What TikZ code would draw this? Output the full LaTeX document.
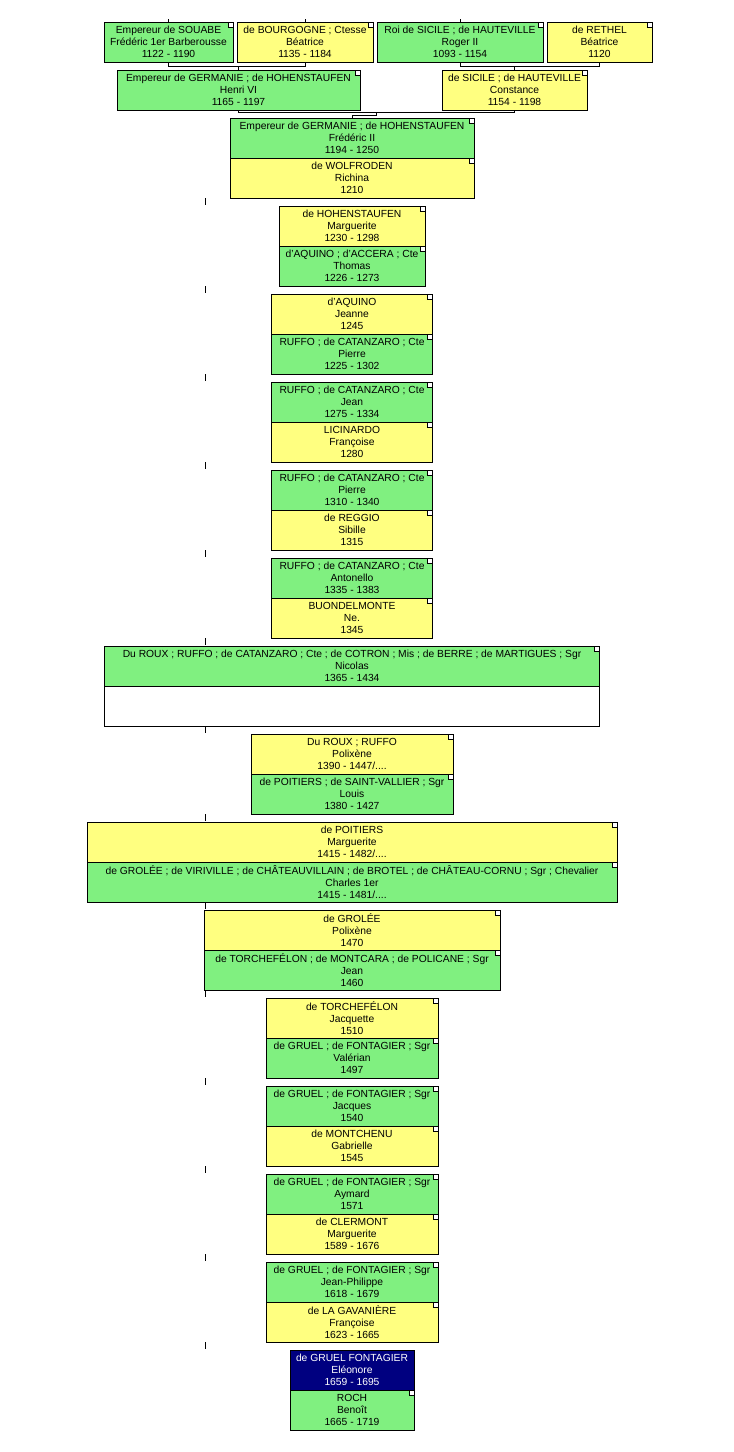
\documentclass[tikz,border=0pt]{standalone}
\usepackage{fontspec}
\setmainfont{Liberation Sans}
\usetikzlibrary{positioning}
\definecolor{malegreen}{RGB}{128,240,128}
\definecolor{femaleyellow}{RGB}{255,255,128}
\definecolor{rootblue}{RGB}{0,0,128}
\begin{document}
\begin{tikzpicture}[x=1pt,y=-1pt,line width=0.7pt,
    box node/.style={draw,line width=0.9pt,inner sep=0pt,outer sep=0pt,minimum height=40pt,
                     align=center,font=\fontsize{10.3}{12}\selectfont},
    corner tab/.style={path picture={\draw[fill=white,line width=0.6pt]
        ([shift={(-5pt,-5pt)}]path picture bounding box.north east) rectangle (path picture bounding box.north east);}},
    male node/.style={box node,corner tab,fill=malegreen},
    female node/.style={box node,corner tab,fill=femaleyellow},
    root node/.style={box node,fill=rootblue,text=white},
    blank node/.style={box node,fill=white}]

    \useasboundingbox[fill=white] (0,0) rectangle (734,1452);

    % great-grandparents
    \node[male node,minimum width=129pt,anchor=north west] (souabe) at (104,22) {Empereur de SOUABE\\Frédéric 1er Barberousse\\1122 - 1190};
    \node[female node,minimum width=136pt,anchor=north west] (bourgogne) at (237,22) {de BOURGOGNE ; Ctesse\\Béatrice\\1135 - 1184};
    \node[male node,minimum width=166pt,anchor=north west] (roger) at (377,22) {Roi de SICILE ; de HAUTEVILLE\\Roger II\\1093 - 1154};
    \node[female node,minimum width=105pt,anchor=north west] (rethel) at (547,22) {de RETHEL\\Béatrice\\1120};

    % grandparents
    \node[male node,minimum width=243pt,anchor=north west] (henri) at (117,70) {Empereur de GERMANIE ; de HOHENSTAUFEN\\Henri VI\\1165 - 1197};
    \node[female node,minimum width=145pt,anchor=north west] (constance) at (442,70) {de SICILE ; de HAUTEVILLE\\Constance\\1154 - 1198};

    % line of descent
    \node[male node,minimum width=244pt,anchor=north] (fred) at (352,118) {Empereur de GERMANIE ; de HOHENSTAUFEN\\Frédéric II\\1194 - 1250};
    \node[female node,minimum width=244pt] (wolf) [below=0pt of fred] {de WOLFRODEN\\Richina\\1210};

    \node[female node,minimum width=146pt] (marguerite) [below=8pt of wolf] {de HOHENSTAUFEN\\Marguerite\\1230 - 1298};
    \node[male node,minimum width=146pt] (thomas) [below=0pt of marguerite] {d'AQUINO ; d'ACCERA ; Cte\\Thomas\\1226 - 1273};

    \node[female node,minimum width=161pt] (jeanne) [below=8pt of thomas] {d'AQUINO\\Jeanne\\1245};
    \node[male node,minimum width=161pt] (pierre) [below=0pt of jeanne] {RUFFO ; de CATANZARO ; Cte\\Pierre\\1225 - 1302};

    \node[male node,minimum width=161pt] (jean) [below=8pt of pierre] {RUFFO ; de CATANZARO ; Cte\\Jean\\1275 - 1334};
    \node[female node,minimum width=161pt] (francoise) [below=0pt of jean] {LICINARDO\\Françoise\\1280};

    \node[male node,minimum width=161pt] (pierreb) [below=8pt of francoise] {RUFFO ; de CATANZARO ; Cte\\Pierre\\1310 - 1340};
    \node[female node,minimum width=161pt] (sibille) [below=0pt of pierreb] {de REGGIO\\Sibille\\1315};

    \node[male node,minimum width=161pt] (antonello) [below=8pt of sibille] {RUFFO ; de CATANZARO ; Cte\\Antonello\\1335 - 1383};
    \node[female node,minimum width=161pt] (buondel) [below=0pt of antonello] {BUONDELMONTE\\Ne.\\1345};

    \node[male node,minimum width=495pt] (nicolas) [below=8pt of buondel] {Du ROUX ; RUFFO ; de CATANZARO ; Cte ; de COTRON ; Mis ; de BERRE ; de MARTIGUES ; Sgr\\Nicolas\\1365 - 1434};
    \node[blank node,minimum width=495pt] (blank) [below=0pt of nicolas] {};

    \node[female node,minimum width=202pt] (polixene) [below=8pt of blank] {Du ROUX ; RUFFO\\Polixène\\1390 - 1447/....};
    \node[male node,minimum width=202pt] (louis) [below=0pt of polixene] {de POITIERS ; de SAINT-VALLIER ; Sgr\\Louis\\1380 - 1427};

    \node[female node,minimum width=530pt] (margpoit) [below=8pt of louis] {de POITIERS\\Marguerite\\1415 - 1482/....};
    \node[male node,minimum width=530pt] (charles) [below=0pt of margpoit] {de GROLÉE ; de VIRIVILLE ; de CHÂTEAUVILLAIN ; de BROTEL ; de CHÂTEAU-CORNU ; Sgr ; Chevalier\\Charles 1er\\1415 - 1481/....};

    \node[female node,minimum width=296pt] (polixeneg) [below=8pt of charles] {de GROLÉE\\Polixène\\1470};
    \node[male node,minimum width=296pt] (jeantorch) [below=0pt of polixeneg] {de TORCHEFÉLON ; de MONTCARA ; de POLICANE ; Sgr\\Jean\\1460};

    \node[female node,minimum width=172pt] (jacquette) [below=8pt of jeantorch] {de TORCHEFÉLON\\Jacquette\\1510};
    \node[male node,minimum width=172pt] (valerian) [below=0pt of jacquette] {de GRUEL ; de FONTAGIER ; Sgr\\Valérian\\1497};

    \node[male node,minimum width=172pt] (jacques) [below=8pt of valerian] {de GRUEL ; de FONTAGIER ; Sgr\\Jacques\\1540};
    \node[female node,minimum width=172pt] (gabrielle) [below=0pt of jacques] {de MONTCHENU\\Gabrielle\\1545};

    \node[male node,minimum width=172pt] (aymard) [below=8pt of gabrielle] {de GRUEL ; de FONTAGIER ; Sgr\\Aymard\\1571};
    \node[female node,minimum width=172pt] (margcler) [below=0pt of aymard] {de CLERMONT\\Marguerite\\1589 - 1676};

    \node[male node,minimum width=172pt] (jeanph) [below=8pt of margcler] {de GRUEL ; de FONTAGIER ; Sgr\\Jean-Philippe\\1618 - 1679};
    \node[female node,minimum width=172pt] (francoiseg) [below=0pt of jeanph] {de LA GAVANIÈRE\\Françoise\\1623 - 1665};

    \node[root node,minimum width=124pt] (eleonore) [below=8pt of francoiseg] {de GRUEL FONTAGIER\\Eléonore\\1659 - 1695};
    \node[male node,minimum width=124pt] (benoit) [below=0pt of eleonore] {ROCH\\Benoît\\1665 - 1719};

    % couples to children
    \draw (souabe.south) -- ++(0,4) coordinate (bar1) -| (bourgogne.south);
    \draw (henri.north) -- (henri.north |- bar1);
    \draw (roger.south) -- ++(0,4) coordinate (bar2) -| (rethel.south);
    \draw (constance.north) -- (constance.north |- bar2);
    \draw (henri.south) -- ++(0,2) coordinate (bar3) -| (constance.south);
    \path (bar3) -- (bar3 -| constance.south) coordinate[pos=.5] (mid3);
    \draw (fred.north) -- ++(0,-3) -| (mid3);

    % stubs
    \foreach \n in {souabe,bourgogne,roger}
        \draw (\n.north) -- ++(0,-3);
    \coordinate (stem) at (205,0);
    \foreach \n in {wolf,thomas,pierre,francoise,sibille,buondel,blank,louis,charles,jeantorch,valerian,gabrielle,margcler,francoiseg}
        \draw (\n.south -| stem) -- ++(0,7);
\end{tikzpicture}
\end{document}
